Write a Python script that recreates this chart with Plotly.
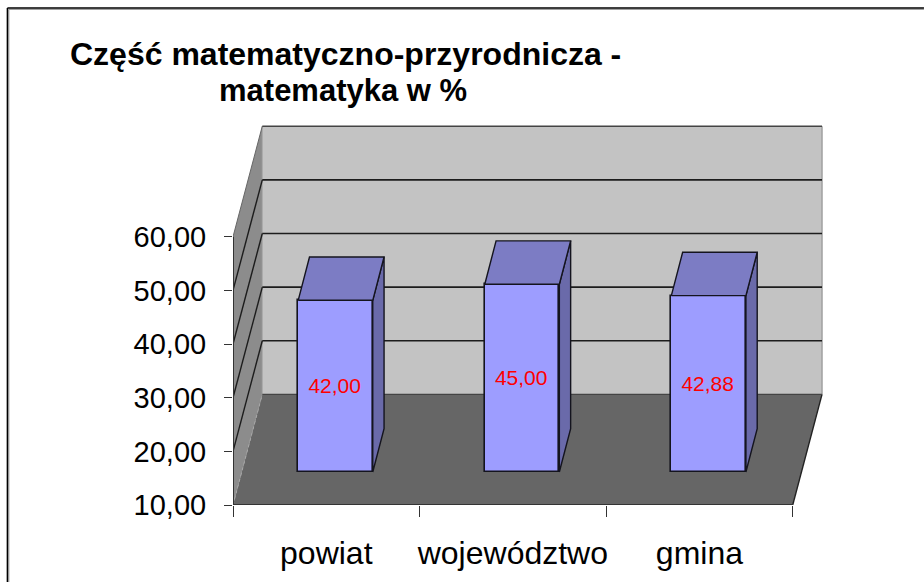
import plotly.graph_objects as go

categories = ["powiat", "województwo", "gmina"]
values = [42.00, 45.00, 42.88]
value_labels = ["42,00", "45,00", "42,88"]
y_ticks = [10, 20, 30, 40, 50, 60]
y_tick_labels = ["10,00", "20,00", "30,00", "40,00", "50,00", "60,00"]
title_lines = ["Część matematyczno-przyrodnicza -", "matematyka w %"]

W, H = 924, 582
L, R, T, B = 232.7, 94, 120, 77.3
SX, SY = 186.67, 5.36            # pixels per category / per value unit
YMIN = 10
XMIN = -0.5
XMAX = XMIN + (W - R - L) / SX
YMAX = YMIN + (H - T - B) / SY
WALL_DX, WALL_DY = 29.3 / SX, 110.5 / SY
BAR_DX, BAR_DY = 11.3 / SX, 43.3 / SY
BAR_W = 74.6 / SX
BAR_SHIFT = 9.2 / SX
FLOOR_LIFT = 33 / SY
FONT = "Liberation Sans, Arial, sans-serif"
EDGE = "#14141e"

xr = len(categories) - 0.5


def poly(pts, fill, line=None, width=0):
    path = "M" + " L".join(f"{x},{y}" for x, y in pts) + " Z"
    return dict(type="path", path=path, xref="x", yref="y", layer="below",
                fillcolor=fill, line=dict(color=line or fill, width=width))


def seg(x0, y0, x1, y1, color, width=1.6, dash="solid"):
    return dict(type="line", x0=x0, y0=y0, x1=x1, y1=y1, xref="x", yref="y",
                layer="below", line=dict(color=color, width=width, dash=dash))


top_y = y_ticks[-1]
shapes = [
    poly([(XMIN + WALL_DX, YMIN + WALL_DY), (xr + WALL_DX, YMIN + WALL_DY),
          (xr + WALL_DX, top_y + WALL_DY), (XMIN + WALL_DX, top_y + WALL_DY)], "#c3c3c3"),
    poly([(XMIN, YMIN), (XMIN + WALL_DX, YMIN + WALL_DY),
          (XMIN + WALL_DX, top_y + WALL_DY), (XMIN, top_y)], "#8c8c8c"),
    poly([(XMIN, YMIN), (xr, YMIN), (xr + WALL_DX, YMIN + WALL_DY),
          (XMIN + WALL_DX, YMIN + WALL_DY)], "#666666"),
    seg(xr + WALL_DX, YMIN + WALL_DY, xr + WALL_DX, top_y + WALL_DY, "#a0a0a0", 1.5),
    seg(XMIN + WALL_DX, YMIN + WALL_DY, XMIN + WALL_DX, top_y + WALL_DY, "#a6a6a6", 1),
    seg(xr, YMIN, xr + WALL_DX, YMIN + WALL_DY, "#222222", 1.4),
    seg(XMIN, top_y, XMIN + WALL_DX, top_y + WALL_DY, "#666666", 1),
]
for v in y_ticks[1:]:
    shapes.append(seg(XMIN + WALL_DX, v + WALL_DY, xr + WALL_DX, v + WALL_DY,
                      "#1c1c1c" if v < top_y else "#444444"))
for v in y_ticks[1:-1]:
    shapes.append(seg(XMIN, v, XMIN + WALL_DX, v + WALL_DY, "#1c1c1c", 1.4))
shapes.append(seg(XMIN, YMIN, XMIN + WALL_DX, YMIN + WALL_DY, "#a8a8a8", 1, "dot"))
shapes.append(seg(XMIN + WALL_DX, YMIN + WALL_DY, xr + WALL_DX, YMIN + WALL_DY, "#444444", 1.2))


def px_x(p):
    return (p - L) / (W - L - R)


def px_y(p):
    return 1 - (p - T) / (H - T - B)


# page frame (left and top edges only are visible)
for c, off, wd in (("#8c8c8c", 1.4, 1), ("#000000", 0, 1.5)):
    shapes.append(dict(type="line", xref="paper", yref="paper", x0=px_x(7 + off), x1=px_x(7 + off),
                       y0=px_y(8 + off), y1=px_y(H), layer="above", line=dict(color=c, width=wd)))
    shapes.append(dict(type="line", xref="paper", yref="paper", x0=px_x(7 + off), x1=px_x(W),
                       y0=px_y(8 + off), y1=px_y(8 + off), layer="above", line=dict(color=c, width=wd)))

fig = go.Figure()

centers = [i + BAR_SHIFT for i in range(len(categories))]
bar_base = YMIN + FLOOR_LIFT

# depth faces
for cx, v in zip(centers, values):
    xl, xh = cx - BAR_W / 2, cx + BAR_W / 2
    yt = v + FLOOR_LIFT
    fig.add_trace(go.Scatter(
        x=[xh, xh + BAR_DX, xh + BAR_DX, xh, xh],
        y=[bar_base, bar_base + BAR_DY, yt + BAR_DY, yt, bar_base],
        mode="lines", fill="toself", fillcolor="#6a6aaa",
        line=dict(color=EDGE, width=1.4), showlegend=False, hoverinfo="skip"))
    fig.add_trace(go.Scatter(
        x=[xl, xh, xh + BAR_DX, xl + BAR_DX, xl],
        y=[yt, yt, yt + BAR_DY, yt + BAR_DY, yt],
        mode="lines", fill="toself", fillcolor="#7c7cc4",
        line=dict(color=EDGE, width=1.4), showlegend=False, hoverinfo="skip"))

# front faces
fig.add_trace(go.Bar(
    x=centers, y=[v - YMIN for v in values], base=bar_base, width=BAR_W,
    marker=dict(color="#9d9dff", line=dict(color=EDGE, width=1.6)),
    text=value_labels, textposition="inside", insidetextanchor="middle", textangle=0,
    insidetextfont=dict(family=FONT, size=21, color="#ff0000"),
    constraintext="none", showlegend=False, hoverinfo="skip"))

# axis lines
fig.add_trace(go.Scatter(x=[XMIN, XMIN, xr], y=[top_y, YMIN, YMIN], mode="lines",
                         line=dict(color="#333333", width=2), cliponaxis=False,
                         showlegend=False, hoverinfo="skip"))

fig.update_layout(
    width=W, height=H, autosize=False,
    margin=dict(l=L, r=R, t=T, b=B, pad=0, autoexpand=False),
    paper_bgcolor="#ffffff", plot_bgcolor="rgba(0,0,0,0)",
    bargap=0, shapes=shapes,
    annotations=[
        dict(text=title_lines[0], xref="paper", yref="paper",
             x=px_x(345), y=px_y(54), xanchor="center", yanchor="middle", showarrow=False,
             font=dict(family=FONT, size=32, color="#000000", weight="bold")),
        dict(text=title_lines[1], xref="paper", yref="paper",
             x=px_x(343), y=px_y(91), xanchor="center", yanchor="middle", showarrow=False,
             font=dict(family=FONT, size=31, color="#000000", weight="bold")),
    ],
    xaxis=dict(range=[XMIN, XMAX], automargin=False, tickmode="array",
               tickvals=list(range(len(categories))),
               ticktext=categories, ticks="outside", ticklen=20, tickcolor="rgba(0,0,0,0)",
               showgrid=False, zeroline=False, showline=False,
               tickfont=dict(family=FONT, size=32, color="#000000"),
               minor=dict(tickmode="array", tickvals=[XMIN + i for i in range(len(categories) + 1)],
                          ticks="outside", ticklen=11, tickcolor="#333333", tickwidth=1.4, showgrid=False)),
    yaxis=dict(range=[YMIN, YMAX], automargin=False, tickmode="array", tickvals=y_ticks,
               ticktext=y_tick_labels,
               ticks="outside", ticklen=20, tickcolor="rgba(0,0,0,0)",
               showgrid=False, zeroline=False, showline=False,
               tickfont=dict(family=FONT, size=29, color="#000000"),
               minor=dict(tickmode="array", tickvals=y_ticks, ticks="outside", ticklen=8,
                          tickcolor="#333333", tickwidth=1.4, showgrid=False)),
)

fig.write_html("out.html", config={"displayModeBar": False},
               post_script="document.body.style.margin='0';")
